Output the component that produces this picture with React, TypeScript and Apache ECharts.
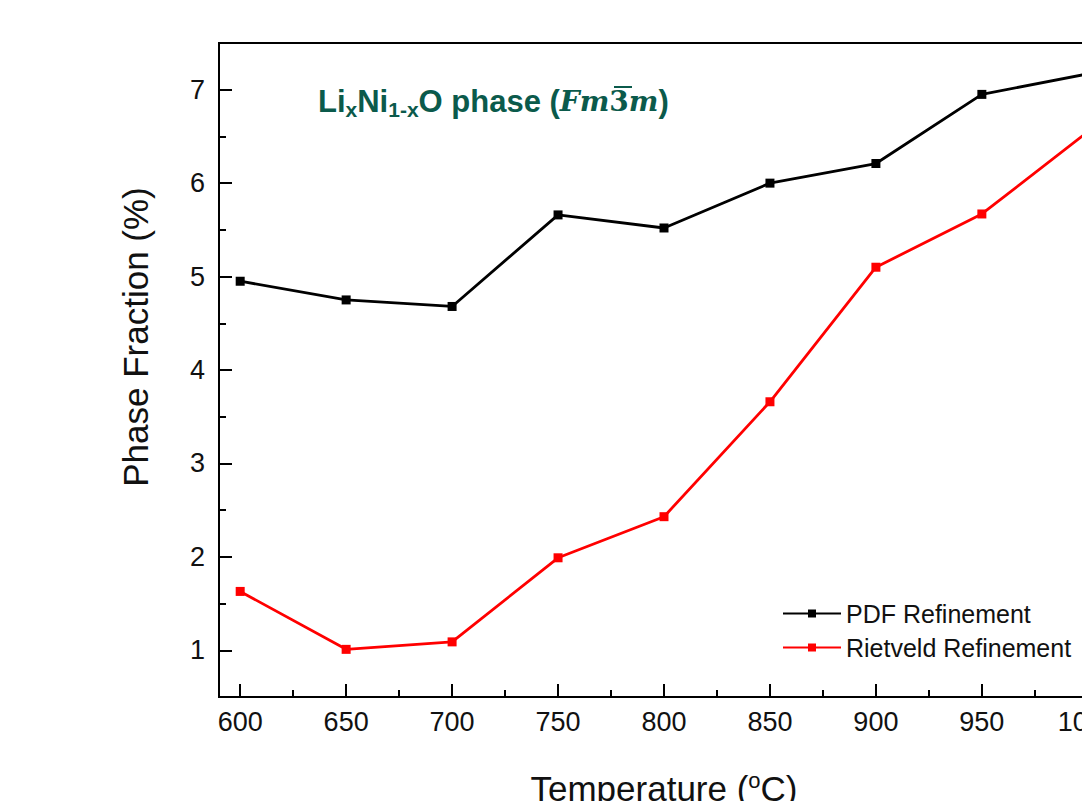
import React, { useEffect, useRef } from "react";
import * as echarts from "echarts";

const temperatures = [600, 650, 700, 750, 800, 850, 900, 950, 1000];
const pdfValues = [4.95, 4.75, 4.68, 5.66, 5.52, 6.0, 6.21, 6.95, 7.17];
const rietveldValues = [1.63, 1.01, 1.09, 1.99, 2.43, 3.66, 5.1, 5.67, 6.55];
const xMajorTicks = [600, 650, 700, 750, 800, 850, 900, 950, 1000];
const xMinorTicks = [625, 675, 725, 775, 825, 875, 925, 975];
const yMajorTicks = [1, 2, 3, 4, 5, 6, 7];

const FONT = 'Arial, "Liberation Sans", sans-serif';
const TEAL = "#0b5a4b";

export default function App() {
  const ref = useRef<HTMLDivElement>(null);
  useEffect(() => {
    if (!ref.current) return;
    const chart = echarts.init(ref.current, undefined, { renderer: "svg" });
    const pdf = temperatures.map((t, i) => [t, pdfValues[i]]);
    const riet = temperatures.map((t, i) => [t, rietveldValues[i]]);
    chart.setOption({
      animation: false,
      backgroundColor: "#ffffff",
      title: {
        text: "{n|Li}{s|x}{n|Ni}{s|1-x}{n|O phase (}{i|Fm}{o|3}{i|m}{n|)}",
        left: 313,
        top: 78,
        textStyle: {
          rich: {
            n: { fontFamily: FONT, fontWeight: "bold", fontSize: 31, color: TEAL },
            s: { fontFamily: FONT, fontWeight: "bold", fontSize: 21, color: TEAL, padding: [16, 0, 0, 0] },
            i: { fontFamily: '"DejaVu Serif", serif', fontStyle: "italic", fontWeight: "bold", fontSize: 28, color: TEAL },
            o: { fontFamily: '"DejaVu Serif", serif', fontWeight: "bold", fontSize: 28, color: TEAL },
          },
        },
      },
      legend: {
        left: 777,
        top: 596,
        orient: "vertical",
        itemWidth: 58,
        itemHeight: 10,
        itemGap: 9,
        textStyle: { fontFamily: FONT, fontSize: 25, color: "#111" },
        data: ["PDF Refinement", "Rietveld Refinement"],
      },
      grid: {
        left: 219,
        top: 43,
        width: 890,
        height: 654,
        show: true,
        borderColor: "#000",
        borderWidth: 2,
        backgroundColor: "transparent",
      },
      graphic: [
        {
          type: "text",
          x: 135,
          y: 337,
          rotation: Math.PI / 2,
          style: {
            text: "Phase Fraction (%)",
            fontFamily: FONT,
            fontSize: 35,
            fill: "#111",
            textAlign: "center",
            textVerticalAlign: "middle",
          },
        },
        {
          type: "line",
          shape: { x1: 614, y1: 87, x2: 632, y2: 87 },
          style: { stroke: TEAL, lineWidth: 2 },
        },
      ],
      xAxis: [
        {
          type: "value",
          min: 590,
          max: 1010,
          position: "bottom",
          name: "Temperature ({sup|o}C)",
          nameLocation: "middle",
          nameGap: 72,
          nameTextStyle: {
            fontFamily: FONT,
            fontSize: 35,
            color: "#111",
            rich: {
              sup: { fontFamily: FONT, fontSize: 22, color: "#111", padding: [0, 0, 16, 0] },
            },
          },
          axisLine: { show: true, lineStyle: { color: "#000", width: 2 } },
          axisTick: { show: true, inside: true, length: 13, lineStyle: { color: "#000", width: 2 }, customValues: xMajorTicks },
          axisLabel: {
            show: true,
            fontFamily: FONT,
            fontSize: 27,
            color: "#111",
            margin: 11,
            customValues: xMajorTicks,
            formatter: (v: number) => String(v),
          },
          splitLine: { show: false },
        },
        {
          type: "value",
          min: 590,
          max: 1010,
          position: "bottom",
          axisLine: { show: false },
          axisTick: { show: true, inside: true, length: 7, lineStyle: { color: "#000", width: 2 }, customValues: xMinorTicks },
          axisLabel: { show: false },
          splitLine: { show: false },
        },
      ],
      yAxis: [
        {
          type: "value",
          min: 0.5,
          max: 7.5,
          position: "left",
          axisLine: { show: true, lineStyle: { color: "#000", width: 2 } },
          axisTick: { show: true, inside: true, length: 13, lineStyle: { color: "#000", width: 2 }, customValues: yMajorTicks },
          axisLabel: { show: true, fontFamily: FONT, fontSize: 27, color: "#111", margin: 14, customValues: yMajorTicks },
          splitLine: { show: false },
        },
        {
          type: "value",
          min: 0.5,
          max: 7.5,
          interval: 0.5,
          position: "left",
          offset: 0,
          axisLine: { show: false },
          axisTick: { show: true, inside: true, length: 7, lineStyle: { color: "#000", width: 2 } },
          axisLabel: { show: false },
          splitLine: { show: false },
        },
      ],
      series: [
        {
          name: "PDF Refinement",
          type: "line",
          data: pdf,
          symbol: "rect",
          symbolSize: 9,
          color: "#000000",
          lineStyle: { color: "#000000", width: 2.8 },
          itemStyle: { color: "#000000" },
        },
        {
          name: "Rietveld Refinement",
          type: "line",
          data: riet,
          symbol: "rect",
          symbolSize: 9,
          color: "#ff0000",
          lineStyle: { color: "#ff0000", width: 2.8 },
          itemStyle: { color: "#ff0000" },
        },
      ],
    });
    return () => chart.dispose();
  }, []);
  return (
    <div style={{ position: "fixed", left: 0, top: 0, width: 1082, height: 801, overflow: "hidden", background: "#fff" }}>
      <div ref={ref} style={{ width: 1160, height: 880 }} />
    </div>
  );
}
